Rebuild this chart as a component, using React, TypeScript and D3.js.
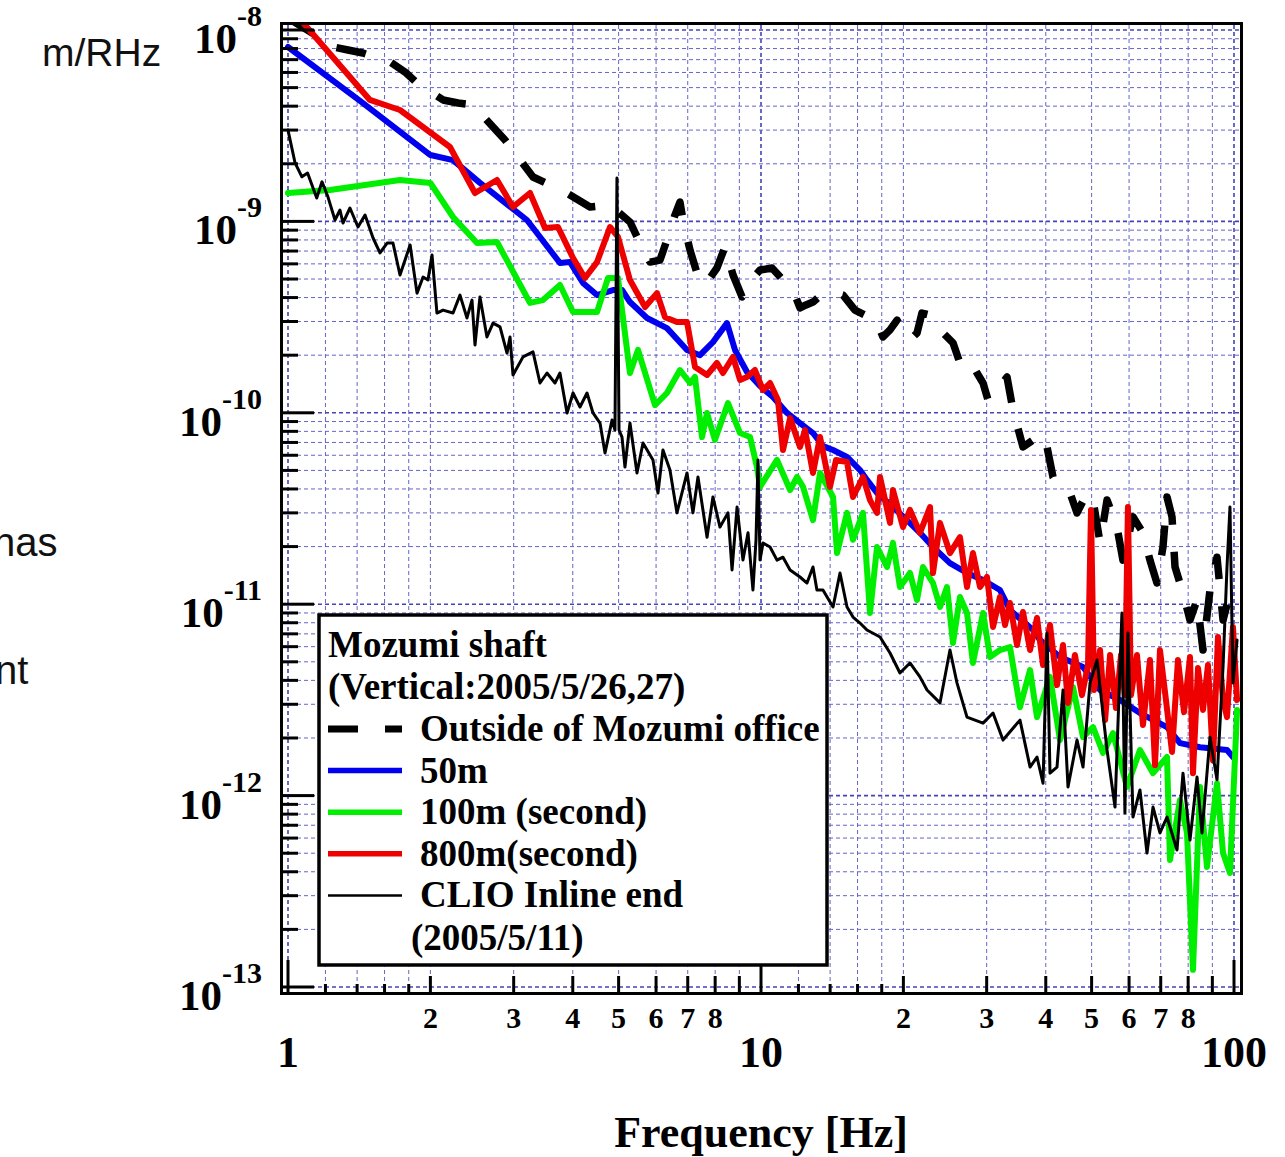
import React from 'react';
import * as d3 from 'd3';

const W = 1285;
const H = 1157;

// Outside of Mozumi office (dashed black)
const outsideOffice: [number, number][] = [
  [1.0, 1.155e-8], [1.17, 9.08e-9], [1.245, 8.15e-9], [1.339, 7.86e-9], [1.44, 7.58e-9], [1.643, 6.81e-9],
  [1.768, 6.03e-9], [1.874, 5.28e-9], [2.127, 4.31e-9], [2.288, 4.155e-9], [2.461, 4.057e-9], [2.713, 3.113e-9],
  [2.876, 2.662e-9], [3.063, 2.17e-9], [3.296, 1.706e-9], [3.58, 1.55e-9], [3.851, 1.424e-9], [4.35, 1.189e-9],
  [4.795, 1.218e-9], [5.284, 9.93e-10], [5.548, 7.71e-10], [5.825, 6.13e-10], [6.116, 6.28e-10], [6.357, 8.29e-10],
  [6.578, 1.08e-9], [6.74, 1.262e-9], [6.84, 1.017e-9], [7.077, 7.09e-10], [7.323, 5.37e-10], [7.613, 4.65e-10],
  [8.07, 5.71e-10], [8.39, 7.35e-10], [8.727, 5.25e-10], [9.118, 4.03e-10], [9.388, 4.38e-10], [9.616, 5.06e-10],
  [9.952, 5.57e-10], [10.55, 5.71e-10], [11.13, 4.94e-10], [11.69, 4.38e-10], [12.09, 3.53e-10], [12.45, 3.66e-10],
  [12.88, 3.79e-10], [13.33, 4.07e-10], [13.86, 4.28e-10], [14.41, 4.22e-10], [14.91, 4.12e-10], [15.8, 3.44e-10],
  [16.59, 3.24e-10], [17.42, 3.13e-10], [18.11, 2.49e-10], [18.74, 2.71e-10], [19.39, 3.05e-10], [19.96, 2.71e-10],
  [20.65, 2.4e-10], [21.37, 2.61e-10], [21.89, 3.32e-10], [22.77, 3.24e-10], [23.56, 2.81e-10], [24.73, 2.49e-10],
  [25.46, 2.32e-10], [26.34, 1.82e-10], [27.66, 1.89e-10], [28.62, 1.614e-10], [29.47, 1.431e-10], [30.2, 1.166e-10],
  [31.54, 1.315e-10], [33.12, 1.538e-10], [34.1, 1.034e-10], [35.8, 6.63e-11], [37.6, 7.21e-11], [38.33, 6.17e-11],
  [40.25, 6.63e-11], [41.43, 4.62e-11], [42.87, 4.1e-11], [45.01, 3.81e-11], [46.57, 3.0e-11], [48.9, 3.81e-11],
  [50.35, 3.5e-11], [52.1, 2.09e-11], [53.9, 3.5e-11], [56.58, 2.53e-11], [58.23, 1.7e-11], [61.15, 2.86e-11],
  [64.2, 2.36e-11], [66.43, 1.7e-11], [68.72, 1.29e-11], [70.77, 1.99e-11], [72.17, 3.63e-11], [73.95, 2.86e-11],
  [75.04, 1.565e-11], [78.01, 1.144e-11], [80.72, 8.27e-12], [83.52, 1.052e-11], [85.99, 5.76e-12], [88.97, 1.186e-11],
  [92.06, 1.76e-11], [94.8, 8.27e-12], [98.06, 1.144e-11], [100, 1.052e-11],
];

// 50m (blue)
const shaft50m: [number, number][] = [
  [1.0, 8.15e-9], [1.42, 4.26e-9], [2.0, 2.222e-9], [2.233, 2.09e-9], [2.546, 1.59e-9], [3.2, 1.017e-9],
  [3.36, 8.7e-10], [3.758, 6.06e-10], [3.947, 6.13e-10], [4.204, 4.77e-10], [4.501, 4.12e-10], [4.864, 4.38e-10],
  [5.083, 4.38e-10], [5.284, 3.79e-10], [5.741, 3.13e-10], [6.327, 2.77e-10], [6.975, 2.13e-10], [7.43, 2.0e-10],
  [7.914, 2.34e-10], [8.475, 2.94e-10], [8.81, 2.13e-10], [9.342, 1.633e-10], [9.952, 1.38e-10], [10.6, 1.209e-10],
  [11.35, 9.98e-11], [12.09, 8.84e-11], [12.88, 7.84e-11], [13.52, 6.7e-11], [14.2, 6.39e-11], [15.2, 5.88e-11],
  [16.19, 5.02e-11], [16.75, 4.46e-11], [17.59, 3.81e-11], [19.01, 3.22e-11], [20.35, 2.75e-11], [21.68, 2.36e-11],
  [23.1, 1.99e-11], [25.09, 1.64e-11], [27.26, 1.455e-11], [29.47, 1.338e-11], [32.0, 1.186e-11], [33.6, 9.33e-12],
  [37.6, 7.33e-12], [38.9, 6.5e-12], [42.87, 5.3e-12], [47.95, 4.7e-12], [52.1, 3.56e-12], [57.4, 3.16e-12],
  [63.27, 2.7e-12], [72.17, 2.28e-12], [76.88, 1.88e-12], [84.75, 1.79e-12], [96.65, 1.73e-12], [99.5, 1.59e-12],
];

// 100m (second) (green)
const shaft100m: [number, number][] = [
  [1.0, 1.407e-9], [1.227, 1.459e-9], [1.725, 1.646e-9], [2.0, 1.587e-9], [2.233, 1.054e-9], [2.51, 7.71e-10],
  [2.766, 7.8e-10], [3.248, 3.75e-10], [3.46, 3.88e-10], [3.758, 4.65e-10], [4.005, 3.36e-10], [4.501, 3.36e-10],
  [4.748, 5.06e-10], [4.985, 5.06e-10], [5.284, 1.614e-10], [5.495, 2.13e-10], [5.969, 1.098e-10], [6.327, 1.269e-10],
  [6.74, 1.673e-10], [7.077, 1.431e-10], [7.252, 1.538e-10], [7.503, 7.47e-11], [7.69, 9.98e-11], [7.99, 7.21e-11],
  [8.516, 1.125e-10], [9.03, 7.84e-11], [9.48, 7.47e-11], [9.806, 5.21e-11], [9.952, 4.1e-11], [10.81, 5.67e-11],
  [11.52, 3.95e-11], [11.92, 4.62e-11], [12.27, 4.1e-11], [12.88, 2.75e-11], [13.33, 4.85e-11], [14.2, 3.63e-11],
  [14.48, 1.85e-11], [15.2, 3.0e-11], [15.65, 2.17e-11], [16.43, 3.0e-11], [17.0, 8.99e-12], [17.59, 1.99e-11],
  [18.47, 1.565e-11], [19.01, 2.09e-11], [19.67, 1.23e-11], [20.65, 1.455e-11], [21.37, 1.052e-11], [22.0, 1.565e-11],
  [23.1, 1.29e-11], [23.9, 9.67e-12], [24.73, 1.23e-11], [25.46, 6.27e-12], [26.34, 1.09e-11], [27.26, 8.99e-12],
  [28.06, 4.93e-12], [29.47, 8.99e-12], [30.49, 5.3e-12], [32.0, 5.76e-12], [33.6, 5.97e-12], [35.28, 2.9e-12],
  [37.05, 4.53e-12], [38.33, 2.57e-12], [40.83, 4.17e-12], [42.87, 1.95e-12], [45.67, 3.69e-12], [47.95, 2.02e-12],
  [50.35, 2.28e-12], [52.85, 1.67e-12], [55.5, 2.12e-12], [59.38, 1.11e-12], [63.27, 1.73e-12], [67.42, 1.31e-12],
  [72.17, 1.59e-12], [73.23, 4.61e-13], [76.88, 9.48e-13], [79.55, 6.38e-13], [81.9, 1.23e-13], [84.75, 1.11e-12],
  [87.68, 4.24e-13], [92.06, 1.16e-12], [94.8, 5.01e-13], [98.06, 3.94e-13], [101.5, 2.8e-12],
];

// 800m(second) (red)
const shaft800m: [number, number][] = [
  [1.0, 1.35e-8], [1.1, 1.024e-8], [1.49, 4.31e-9], [1.725, 3.82e-9], [2.2, 2.447e-9], [2.485, 1.407e-9],
  [2.766, 1.646e-9], [2.99, 1.189e-9], [3.248, 1.407e-9], [3.494, 9.24e-10], [3.722, 9.35e-10], [4.005, 6.44e-10],
  [4.245, 5.06e-10], [4.501, 6.13e-10], [4.795, 9.35e-10], [4.985, 8.29e-10], [5.284, 4.94e-10], [5.686, 3.57e-10],
  [6.027, 4.22e-10], [6.266, 3.16e-10], [6.642, 2.98e-10], [6.975, 2.98e-10], [7.252, 1.735e-10], [7.69, 1.576e-10],
  [8.07, 1.82e-10], [8.31, 1.614e-10], [8.727, 1.96e-10], [9.03, 1.484e-10], [9.342, 1.538e-10], [9.71, 1.673e-10],
  [10.1, 1.315e-10], [10.45, 1.431e-10], [10.86, 1.166e-10], [11.13, 6.39e-11], [11.52, 9.39e-11], [12.09, 6.63e-11],
  [12.39, 8.13e-11], [12.88, 4.85e-11], [13.33, 7.47e-11], [13.99, 4.1e-11], [14.41, 5.67e-11], [15.2, 5.53e-11],
  [15.65, 3.63e-11], [16.43, 4.62e-11], [17.0, 3.5e-11], [17.59, 3.0e-11], [17.85, 4.62e-11], [18.74, 2.66e-11],
  [19.01, 3.95e-11], [19.96, 2.53e-11], [20.65, 3.11e-11], [21.68, 2.36e-11], [22.77, 3.22e-11], [23.1, 1.455e-11],
  [23.9, 2.66e-11], [25.09, 1.85e-11], [26.34, 2.24e-11], [27.26, 1.23e-11], [28.06, 1.85e-11], [29.04, 1.23e-11],
  [30.05, 1.387e-11], [30.94, 7.6e-12], [32.0, 1.09e-11], [32.8, 7.78e-12], [33.6, 1.015e-11], [34.77, 6.12e-12],
  [35.8, 9.1e-12], [37.05, 5.76e-12], [38.33, 8.47e-12], [39.47, 4.81e-12], [40.83, 7.78e-12], [42.25, 3.78e-12],
  [43.5, 6.12e-12], [44.57, 3.05e-12], [46.1, 5.43e-12], [47.7, 3.35e-12], [49.13, 4.81e-12], [49.85, 3.11e-11],
  [50.6, 3.56e-12], [52.1, 5.76e-12], [53.4, 2.48e-12], [54.7, 5.43e-12], [56.3, 2.87e-12], [57.7, 5.43e-12],
  [58.8, 3.35e-12], [59.67, 3.22e-11], [60.57, 3.35e-12], [62.36, 5.43e-12], [64.2, 2.34e-12], [66.43, 5.11e-12],
  [68.08, 1.445e-12], [69.74, 5.76e-12], [71.8, 3.16e-12], [73.95, 1.69e-12], [76.13, 5.11e-12], [78.4, 2.73e-12],
  [80.72, 5.3e-12], [81.9, 1.31e-12], [83.93, 4.64e-12], [85.99, 2.8e-12], [88.1, 4.81e-12], [90.28, 1.53e-12],
  [92.5, 6.74e-12], [94.8, 3.16e-12], [96.65, 2.57e-12], [99.5, 7.6e-12], [101.5, 3.16e-12],
];

// CLIO Inline end (thin black)
const clioInline: [number, number][] = [
  [1.0, 3.0e-9], [1.035, 2.02e-9], [1.07, 1.71e-9], [1.1, 1.79e-9], [1.15, 1.325e-9], [1.18, 1.61e-9],
  [1.215, 1.34e-9], [1.257, 1.017e-9], [1.288, 1.147e-9], [1.307, 9.81e-10], [1.352, 1.175e-9], [1.406, 9.35e-10],
  [1.455, 1.08e-9], [1.513, 8.19e-10], [1.565, 6.84e-10], [1.62, 7.71e-10], [1.667, 7.71e-10], [1.725, 5.25e-10],
  [1.812, 7.53e-10], [1.874, 4.22e-10], [1.93, 5.12e-10], [1.977, 4.94e-10], [2.016, 6.68e-10], [2.065, 3.32e-10],
  [2.127, 3.44e-10], [2.233, 3.32e-10], [2.31, 4.12e-10], [2.39, 3.13e-10], [2.449, 3.88e-10], [2.485, 2.26e-10],
  [2.546, 4.03e-10], [2.634, 2.49e-10], [2.713, 2.94e-10], [2.807, 2.81e-10], [2.904, 2.05e-10], [2.947, 2.49e-10],
  [2.99, 1.576e-10], [3.14, 1.96e-10], [3.296, 2.08e-10], [3.41, 1.431e-10], [3.528, 1.614e-10], [3.668, 1.431e-10],
  [3.758, 1.614e-10], [3.89, 9.98e-11], [4.005, 1.269e-10], [4.143, 1.072e-10], [4.287, 1.269e-10], [4.414, 9.98e-11],
  [4.567, 8.84e-11], [4.68, 6.17e-11], [4.842, 9.17e-11], [4.912, 8.13e-11], [4.96, 1.686e-9], [5.01, 8.13e-11],
  [5.083, 7.47e-11], [5.157, 5.21e-11], [5.284, 8.84e-11], [5.468, 4.85e-11], [5.63, 6.95e-11], [5.911, 5.67e-11],
  [6.056, 3.81e-11], [6.205, 6.39e-11], [6.42, 5.02e-11], [6.642, 3.0e-11], [6.975, 4.85e-11], [7.18, 3.0e-11],
  [7.358, 4.62e-11], [7.69, 2.24e-11], [7.914, 3.63e-11], [8.19, 2.53e-11], [8.516, 3.0e-11], [8.685, 1.51e-11],
  [8.9, 3.22e-11], [9.16, 1.7e-11], [9.388, 2.36e-11], [9.616, 1.186e-11], [9.76, 2.17e-11], [9.855, 5.67e-11],
  [9.952, 1.7e-11], [10.1, 2.09e-11], [10.45, 1.99e-11], [10.81, 1.7e-11], [11.13, 1.76e-11], [11.52, 1.51e-11],
  [12.09, 1.387e-11], [12.51, 1.29e-11], [12.88, 1.565e-11], [13.13, 1.186e-11], [13.52, 1.186e-11], [14.2, 9.67e-12],
  [14.69, 1.455e-11], [15.2, 9.67e-12], [15.65, 8.57e-12], [16.19, 7.97e-12], [16.75, 7.33e-12], [17.85, 6.74e-12],
  [18.74, 5.56e-12], [19.67, 4.37e-12], [20.65, 4.93e-12], [21.68, 4.17e-12], [22.44, 3.56e-12], [23.9, 3.05e-12],
  [25.09, 5.76e-12], [25.96, 3.88e-12], [27.26, 2.57e-12], [29.47, 2.39e-12], [30.94, 2.7e-12], [32.48, 1.95e-12],
  [35.28, 2.48e-12], [37.05, 1.41e-12], [38.33, 1.59e-12], [39.47, 1.16e-12], [40.25, 7.07e-12], [40.83, 1.31e-12],
  [42.25, 1.41e-12], [43.5, 3.56e-12], [44.57, 1.11e-12], [46.57, 1.95e-12], [47.95, 1.41e-12], [49.62, 3.88e-12],
  [51.34, 5.11e-12], [53.9, 1.73e-12], [56.03, 8.71e-13], [57.95, 8.99e-12], [58.8, 8.11e-13], [59.67, 7.07e-12],
  [61.15, 7.73e-13], [63.27, 1.07e-12], [65.47, 5.01e-13], [67.42, 8.71e-13], [69.74, 6.38e-13], [72.17, 7.73e-13],
  [75.77, 5.2e-13], [78.01, 1.31e-12], [80.72, 5.86e-13], [83.52, 1.25e-12], [85.57, 6.38e-13], [88.97, 2.02e-12],
  [92.06, 1.21e-12], [94.8, 4.7e-12], [96.65, 1.565e-11], [98.06, 3.22e-11], [99.5, 3.88e-12], [101.5, 6.5e-12],
];

const xMinorTicks = [1.2, 1.4, 1.6, 1.8, 12, 14, 16, 18];
const xMajorTicks = [2, 3, 4, 5, 6, 7, 8, 9, 20, 30, 40, 50, 60, 70, 80, 90];
const xDecadeTicks = [1, 10, 100];
const xDecadeLabels = ['1', '10', '100'];
const xSmallLabelValues = [2, 3, 4, 5, 6, 7, 8, 20, 30, 40, 50, 60, 70, 80];
const xSmallLabels = ['2', '3', '4', '5', '6', '7', '8', '2', '3', '4', '5', '6', '7', '8'];
const yExponents = [-13, -12, -11, -10, -9, -8];
const yMantissas = [2, 3, 4, 5, 6, 7, 8, 9];

const legendHeader = ['Mozumi shaft', '(Vertical:2005/5/26,27)'];
const legendLabels = ['Outside of Mozumi office', '50m', '100m (second)', '800m(second)', 'CLIO Inline end'];
const legendFooter = '(2005/5/11)';

const SERIF = "'Liberation Serif', 'Times New Roman', Times, serif";
const SANS = "'Liberation Sans', Arial, Helvetica, sans-serif";
const GRID = '#6464c8';

export default function App() {
  const x = d3.scaleLog().domain([1, 100]).range([288, 1234]);
  const y = d3.scaleLog().domain([1e-13, 1e-8]).range([987, 30]);
  const line = d3
    .line<[number, number]>()
    .x((d) => x(d[0]))
    .y((d) => y(d[1]));

  const yMinorVals: number[] = [];
  yExponents.slice(0, -1).forEach((e) => yMantissas.forEach((m) => yMinorVals.push(m * Math.pow(10, e))));
  const yDecadeVals = yExponents.map((e) => Math.pow(10, e));

  const fL = 283, fR = 1240, fT = 25, fB = 992;

  const series = [
    { data: outsideOffice, color: '#000', width: 7.5, dash: '30 27' },
    { data: shaft50m, color: '#0000ee', width: 6, dash: undefined },
    { data: shaft100m, color: '#00ee00', width: 6, dash: undefined },
    { data: shaft800m, color: '#ee0000', width: 6, dash: undefined },
    { data: clioInline, color: '#000', width: 3, dash: undefined },
  ];

  const legendStyles = [
    { color: '#000', width: 7, dash: '30 27' },
    { color: '#0000ee', width: 5.5, dash: undefined },
    { color: '#00ee00', width: 5.5, dash: undefined },
    { color: '#ee0000', width: 5.5, dash: undefined },
    { color: '#000', width: 2.5, dash: undefined },
  ];

  return (
    <svg
      width={W}
      height={H}
      viewBox={`0 0 ${W} ${H}`}
      style={{ position: 'absolute', left: 0, top: 0, background: '#fff' }}
    >
      <defs>
        <clipPath id="plotClip">
          <rect x={fL} y={fT} width={fR - fL} height={fB - fT} />
        </clipPath>
      </defs>
      <rect x={0} y={0} width={W} height={H} fill="#fff" />

      {/* side slide text fragments (cut at the left edge as in the source slide) */}
      <text x={42} y={66} fontFamily={SANS} fontSize={39} fill="#111">m/RHz</text>
      <text x={-7} y={556} fontFamily={SANS} fontSize={40} fill="#111">has</text>
      <text x={-5} y={684} fontFamily={SANS} fontSize={40} fill="#111">nt</text>

      {/* grid */}
      <g clipPath="url(#plotClip)">
        {[...xMinorTicks, ...xMajorTicks].map((v, i) => (
          <line key={'gx' + i} x1={x(v)} x2={x(v)} y1={fT} y2={fB} stroke={GRID} strokeWidth={1} strokeDasharray="4 3" />
        ))}
        {xDecadeTicks.map((v, i) => (
          <line key={'gxd' + i} x1={x(v)} x2={x(v)} y1={fT} y2={fB} stroke="#4444b8" strokeWidth={1.6} strokeDasharray="4 3" />
        ))}
        {yMinorVals.map((v, i) => (
          <line key={'gy' + i} x1={fL} x2={fR} y1={y(v)} y2={y(v)} stroke={GRID} strokeWidth={1} strokeDasharray="4 3" />
        ))}
        {yDecadeVals.map((v, i) => (
          <line key={'gyd' + i} x1={fL} x2={fR} y1={y(v)} y2={y(v)} stroke="#4444b8" strokeWidth={1.6} strokeDasharray="4 3" />
        ))}
      </g>

      {/* data */}
      <g clipPath="url(#plotClip)" fill="none" strokeLinejoin="round">
        {series.map((s, i) => (
          <path
            key={'s' + i}
            d={line(s.data) || ''}
            stroke={s.color}
            strokeWidth={s.width}
            strokeDasharray={s.dash}
            strokeLinecap={s.dash ? 'butt' : 'round'}
          />
        ))}
      </g>

      {/* frame */}
      <rect x={281.5} y={23.5} width={960} height={970} fill="none" stroke="#000" strokeWidth={3} />

      {/* y ticks */}
      {yMinorVals.map((v, i) => (
        <line key={'ty' + i} x1={fL} x2={298} y1={y(v)} y2={y(v)} stroke="#000" strokeWidth={3} />
      ))}
      {yDecadeVals.map((v, i) => (
        <line key={'tyd' + i} x1={fL} x2={314} y1={y(v)} y2={y(v)} stroke="#000" strokeWidth={3} />
      ))}
      {/* x ticks */}
      {xMinorTicks.map((v, i) => (
        <line key={'tx' + i} x1={x(v)} x2={x(v)} y1={fB} y2={fB - 8} stroke="#000" strokeWidth={3} />
      ))}
      {xMajorTicks.map((v, i) => (
        <line key={'txm' + i} x1={x(v)} x2={x(v)} y1={fB} y2={fB - 16} stroke="#000" strokeWidth={3} />
      ))}
      {xDecadeTicks.map((v, i) => (
        <line key={'txd' + i} x1={x(v)} x2={x(v)} y1={fB} y2={fB - 32} stroke="#000" strokeWidth={3} />
      ))}

      {/* y labels */}
      {yExponents.map((e, i) => {
        const ty = y(Math.pow(10, e));
        return (
          <text key={'ly' + i} x={262} y={ty + 23} textAnchor="end" fontFamily={SERIF} fontWeight="bold" fontSize={43} fill="#000">
            10
            <tspan dy={-27} fontSize={30}>{String(e)}</tspan>
          </text>
        );
      })}

      {/* x labels */}
      {xDecadeTicks.map((v, i) => (
        <text key={'lxd' + i} x={x(v)} y={1067} textAnchor="middle" fontFamily={SERIF} fontWeight="bold" fontSize={44} fill="#000">
          {xDecadeLabels[i]}
        </text>
      ))}
      {xSmallLabelValues.map((v, i) => (
        <text key={'lx' + i} x={x(v)} y={1028} textAnchor="middle" fontFamily={SERIF} fontWeight="bold" fontSize={30} fill="#000">
          {xSmallLabels[i]}
        </text>
      ))}

      <text x={761} y={1147} textAnchor="middle" fontFamily={SERIF} fontWeight="bold" fontSize={44} fill="#000">
        Frequency [Hz]
      </text>

      {/* legend */}
      <rect x={319} y={615} width={508} height={350} fill="#fff" stroke="#000" strokeWidth={3.5} />
      {legendHeader.map((t, i) => (
        <text key={'lh' + i} x={328} y={657 + i * 42} fontFamily={SERIF} fontWeight="bold" fontSize={37} fill="#000">
          {t}
        </text>
      ))}
      {legendLabels.map((t, i) => {
        const base = 741 + i * 41.6;
        const st = legendStyles[i];
        return (
          <g key={'le' + i}>
            <line x1={328} x2={402} y1={base - 12} y2={base - 12} stroke={st.color} strokeWidth={st.width} strokeDasharray={st.dash} strokeLinecap="butt" />
            <text x={420} y={base} fontFamily={SERIF} fontWeight="bold" fontSize={37} fill="#000">
              {t}
            </text>
          </g>
        );
      })}
      <text x={411} y={950} fontFamily={SERIF} fontWeight="bold" fontSize={37} fill="#000">
        {legendFooter}
      </text>
    </svg>
  );
}
